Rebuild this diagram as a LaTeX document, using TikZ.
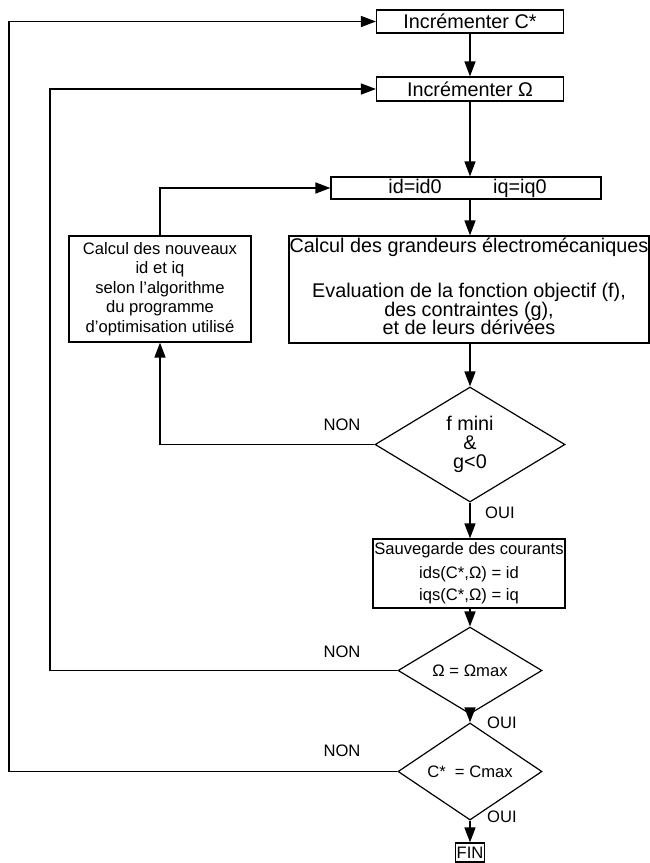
\documentclass[tikz,border=0pt]{standalone}
\usepackage{fontspec}
\setmainfont{Liberation Sans}
\usetikzlibrary{arrows.meta,shapes.geometric}
\newcommand{\fsA}{\fontsize{19.8}{18.8}\selectfont\lineskiplimit=-30pt\lineskip=0pt}
\newcommand{\fsB}{\fontsize{16.6}{19.5}\selectfont\lineskiplimit=-30pt\lineskip=0pt}
\begin{document}
\begin{tikzpicture}[x=1pt,y=-1pt,
  box/.style={draw, line width=1.2pt, inner sep=0pt, align=center},
  dia/.style={draw, diamond, line width=1.2pt, inner sep=0pt, align=center},
  arr/.style={-{Triangle[length=15pt,width=11pt]}, line width=1.5pt},
  lab/.style={font=\fsB, inner sep=0pt}]
\useasboundingbox (0,0) rectangle (650,863);

\node[box, minimum width=187pt, minimum height=23pt, font=\fsA] (c1) at (470,21.5) {Incrémenter C*};
\node[box, minimum width=187pt, minimum height=24pt, font=\fsA] (om) at (470,89) {Incrémenter Ω};
\node[box, minimum width=270pt, minimum height=22pt, font=\fsA] (id) at (466,188) {\hspace{3pt}id=id0\hspace{2.6em}iq=iq0};
\node[box, minimum width=182pt, minimum height=106pt, font=\fsB] (nv) at (160,289) {Calcul des nouveaux\\id et iq\\selon l'algorithme\\du programme\\d'optimisation utilisé};
\node[box, minimum width=360pt, minimum height=107pt] (gr) at (469,289.5) {};
\node[font=\fsA, inner sep=0pt] (grt) at (469,247) {Calcul des grandeurs électromécaniques};
\node[font=\fsA, inner sep=0pt, align=center] (grb) at (469,309) {Evaluation de la fonction objectif (f),\\des contraintes (g),\\et de leurs dérivées};

\node[dia, minimum width=190pt, minimum height=115pt, font=\fsA] (d1) at (470,444.5) {f mini\\\&\\g<0};
\node[box, minimum width=192pt, minimum height=69pt, font=\fsB] (sv) at (469,573.5) {Sauvegarde des courants\\[4pt]ids(C*,Ω) = id\\[3pt]iqs(C*,Ω) = iq};
\node[dia, minimum width=144pt, minimum height=69pt, font=\fsB] (d2) at (470,670.5) {Ω = Ωmax};
\node[dia, minimum width=144pt, minimum height=71pt, font=\fsB] (d3) at (470,771.5) {C*~ = Cmax};
\node[box, minimum width=29pt, minimum height=19pt, font=\fsB] (fin) at (470,852.5) {FIN};

\coordinate (k1) at (9,0);
\coordinate (k2) at (50,0);

\draw[arr] (c1.south) -- (om.north);
\draw[arr] (om.south) -- (om.south |- id.north);
\draw[arr] (om.south |- id.south) -- (om.south |- gr.north);
\draw[arr] (d1.north |- gr.south) -- (d1.north);
\draw[arr] (d1.west) -| (nv.south);
\draw[arr] (nv.north) |- (id.west);
\draw[arr] (d1.south) -- (d1.south |- sv.north);
\draw[arr] (d2.north |- sv.south) -- (d2.north);
\draw[arr] (d2.west) -- (d2.west -| k2) |- (om.west);
\draw[arr] (d2.south) -- (d3.north);
\draw[arr] (d3.west) -- (d3.west -| k1) |- (c1.west);
\draw[arr] (d3.south) -- (fin.north);

\node[lab] (n1) at (342,425) {NON};
\node[lab] (o1) at (500,513) {OUI};
\node[lab] (n2) at (342,652) {NON};
\node[lab] (o2) at (502,723) {OUI};
\node[lab] (n3) at (342,751) {NON};
\node[lab] (o3) at (502,817) {OUI};
\end{tikzpicture}
\end{document}
